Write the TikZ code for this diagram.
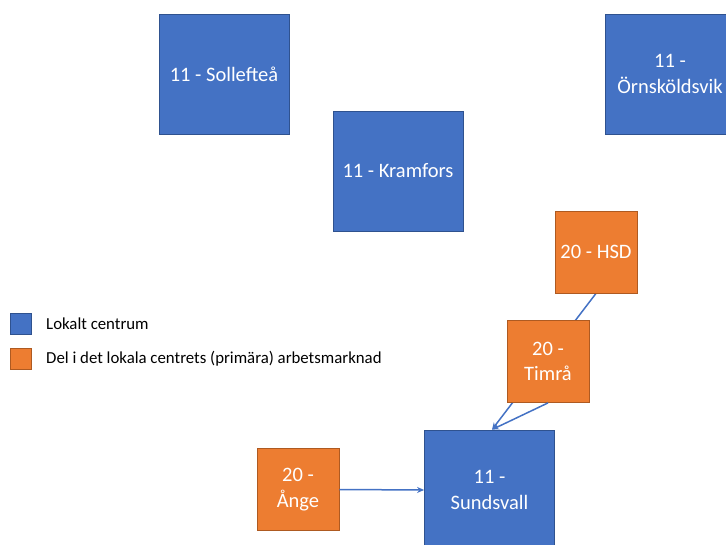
\documentclass[tikz,border=0pt]{standalone}
\usepackage{fontspec}
\setmainfont{Carlito}
\usetikzlibrary{arrows.meta,backgrounds}
\definecolor{cblue}{HTML}{4472C4}
\definecolor{cblueb}{HTML}{2F528F}
\definecolor{corange}{HTML}{ED7D31}
\definecolor{corangeb}{HTML}{AE5A21}
\begin{document}
\begin{tikzpicture}[x=1pt,y=-1pt,
  centre/.style={rectangle,fill=cblue,draw=cblueb,line width=0.8pt,minimum width=130pt,minimum height=120pt,inner sep=0pt,text=white,font=\fontsize{20.5}{25.5}\selectfont,align=center},
  part/.style={rectangle,fill=corange,draw=corangeb,line width=0.8pt,minimum width=82pt,minimum height=82pt,inner sep=0pt,text=white,font=\fontsize{20.5}{25.5}\selectfont,align=center},
  legbox/.style={rectangle,line width=0.8pt,minimum width=21pt,minimum height=21pt,inner sep=0pt},
  legtext/.style={anchor=west,inner sep=0pt,font=\fontsize{16.8}{20}\selectfont},
  conn/.style={draw=cblue,line width=1.5pt,-{Stealth[length=7pt,width=6pt]}}]
\useasboundingbox (0,0) rectangle (726,545);
\node[centre] (soll) at (224,74) {11 - Sollefteå};
\node[centre] (kram) at (398,171) {11 - Kramfors};
\node[centre] (orn) at (670,74) {11 -\\Örnsköldsvik};
\node[centre] (sund) at (489.5,490) {11 -\\Sundsvall};
\node[part] (hsd) at (596,252) {20 - HSD};
\node[part] (timra) at (548,361.5) {20 -\\Timrå};
\node[part] (ange) at (298,489.5) {20 -\\Ånge};
\coordinate (sin) at ([xshift=2.5pt]sund.north);
\begin{scope}[on background layer]
\draw[conn] (hsd.south) -- (sin);
\end{scope}
\draw[conn] (timra.south) -- (sin);
\draw[conn] (ange.east) -- (sund.west);
\node[legbox,fill=cblue,draw=cblueb] (lb1) at (20.5,323.5) {};
\node[legbox,fill=corange,draw=corangeb] (lb2) at (20.5,358.5) {};
\node[legtext] (lt1) at (46,323.5) {Lokalt centrum};
\node[legtext] (lt2) at (46,358.5) {Del i det lokala centrets (primära) arbetsmarknad};
\end{tikzpicture}
\end{document}
